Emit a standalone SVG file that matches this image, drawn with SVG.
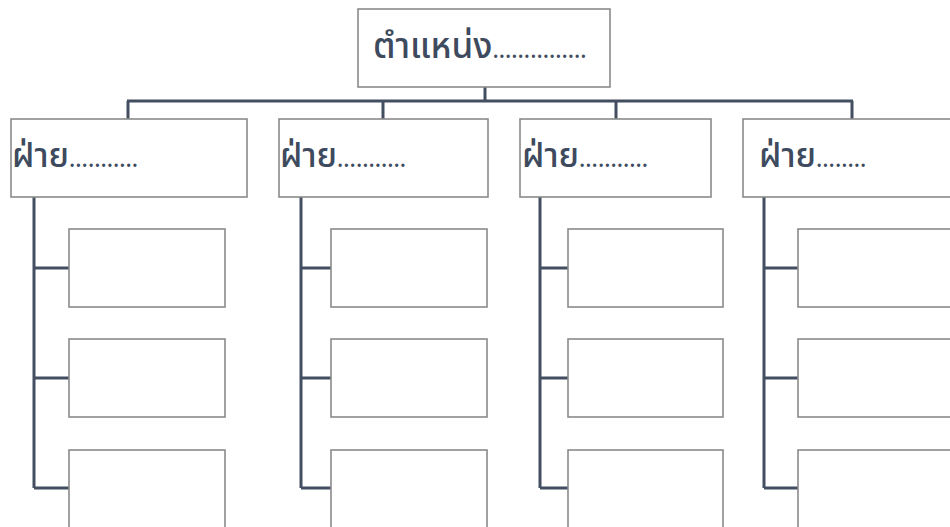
<svg xmlns="http://www.w3.org/2000/svg" width="950" height="527" viewBox="0 0 950 527">
<style>
.box{fill:#fff;stroke:#8a8a8a;stroke-width:1.6}
.con{fill:none;stroke:#434e60;stroke-width:3}
.lbl{font-family:"Noto Sans Thai","Noto Sans","DejaVu Sans",sans-serif;fill:#3e4a5e;font-weight:500}
.dots{font-size:23px}
</style>
<rect width="950" height="527" fill="#fff"/>
<g id="connectors">
<path class="con" d="M485,87V101M127,101H853M128,101V119M383,101V119M616,101V119M852,101V119"/>
<path class="con" d="M34,197V488M34,268H69M34,378H69M34,488H69"/>
<path class="con" d="M301,197V488M301,268H331M301,378H331M301,488H331"/>
<path class="con" d="M540,197V488M540,268H568M540,378H568M540,488H568"/>
<path class="con" d="M764,197V488M764,268H798M764,378H798M764,488H798"/>
</g>
<g id="top"><rect class="box" x="358" y="9" width="252" height="78"/><text class="lbl" x="373" y="58" font-size="35">ตำแหน่ง<tspan class="dots">...............</tspan></text></g>
<g id="dept1"><rect class="box" x="11" y="119" width="236" height="78"/><text class="lbl" x="12" y="167" font-size="34">ฝ่าย<tspan class="dots">...........</tspan></text></g>
<g id="dept2"><rect class="box" x="279" y="119" width="209" height="78"/><text class="lbl" x="280" y="167" font-size="34">ฝ่าย<tspan class="dots">...........</tspan></text></g>
<g id="dept3"><rect class="box" x="520" y="119" width="191" height="78"/><text class="lbl" x="522" y="167" font-size="34">ฝ่าย<tspan class="dots">...........</tspan></text></g>
<g id="dept4"><rect class="box" x="743" y="119" width="215" height="78"/><text class="lbl" x="759" y="167" font-size="34">ฝ่าย<tspan class="dots">........</tspan></text></g>
<g id="c1a"><rect class="box" x="69" y="229" width="156" height="78"/></g>
<g id="c1b"><rect class="box" x="69" y="339" width="156" height="78"/></g>
<g id="c1c"><rect class="box" x="69" y="450" width="156" height="78"/></g>
<g id="c2a"><rect class="box" x="331" y="229" width="156" height="78"/></g>
<g id="c2b"><rect class="box" x="331" y="339" width="156" height="78"/></g>
<g id="c2c"><rect class="box" x="331" y="450" width="156" height="78"/></g>
<g id="c3a"><rect class="box" x="568" y="229" width="155" height="78"/></g>
<g id="c3b"><rect class="box" x="568" y="339" width="155" height="78"/></g>
<g id="c3c"><rect class="box" x="568" y="450" width="155" height="78"/></g>
<g id="c4a"><rect class="box" x="798" y="229" width="160" height="78"/></g>
<g id="c4b"><rect class="box" x="798" y="339" width="160" height="78"/></g>
<g id="c4c"><rect class="box" x="798" y="450" width="160" height="78"/></g>
</svg>
